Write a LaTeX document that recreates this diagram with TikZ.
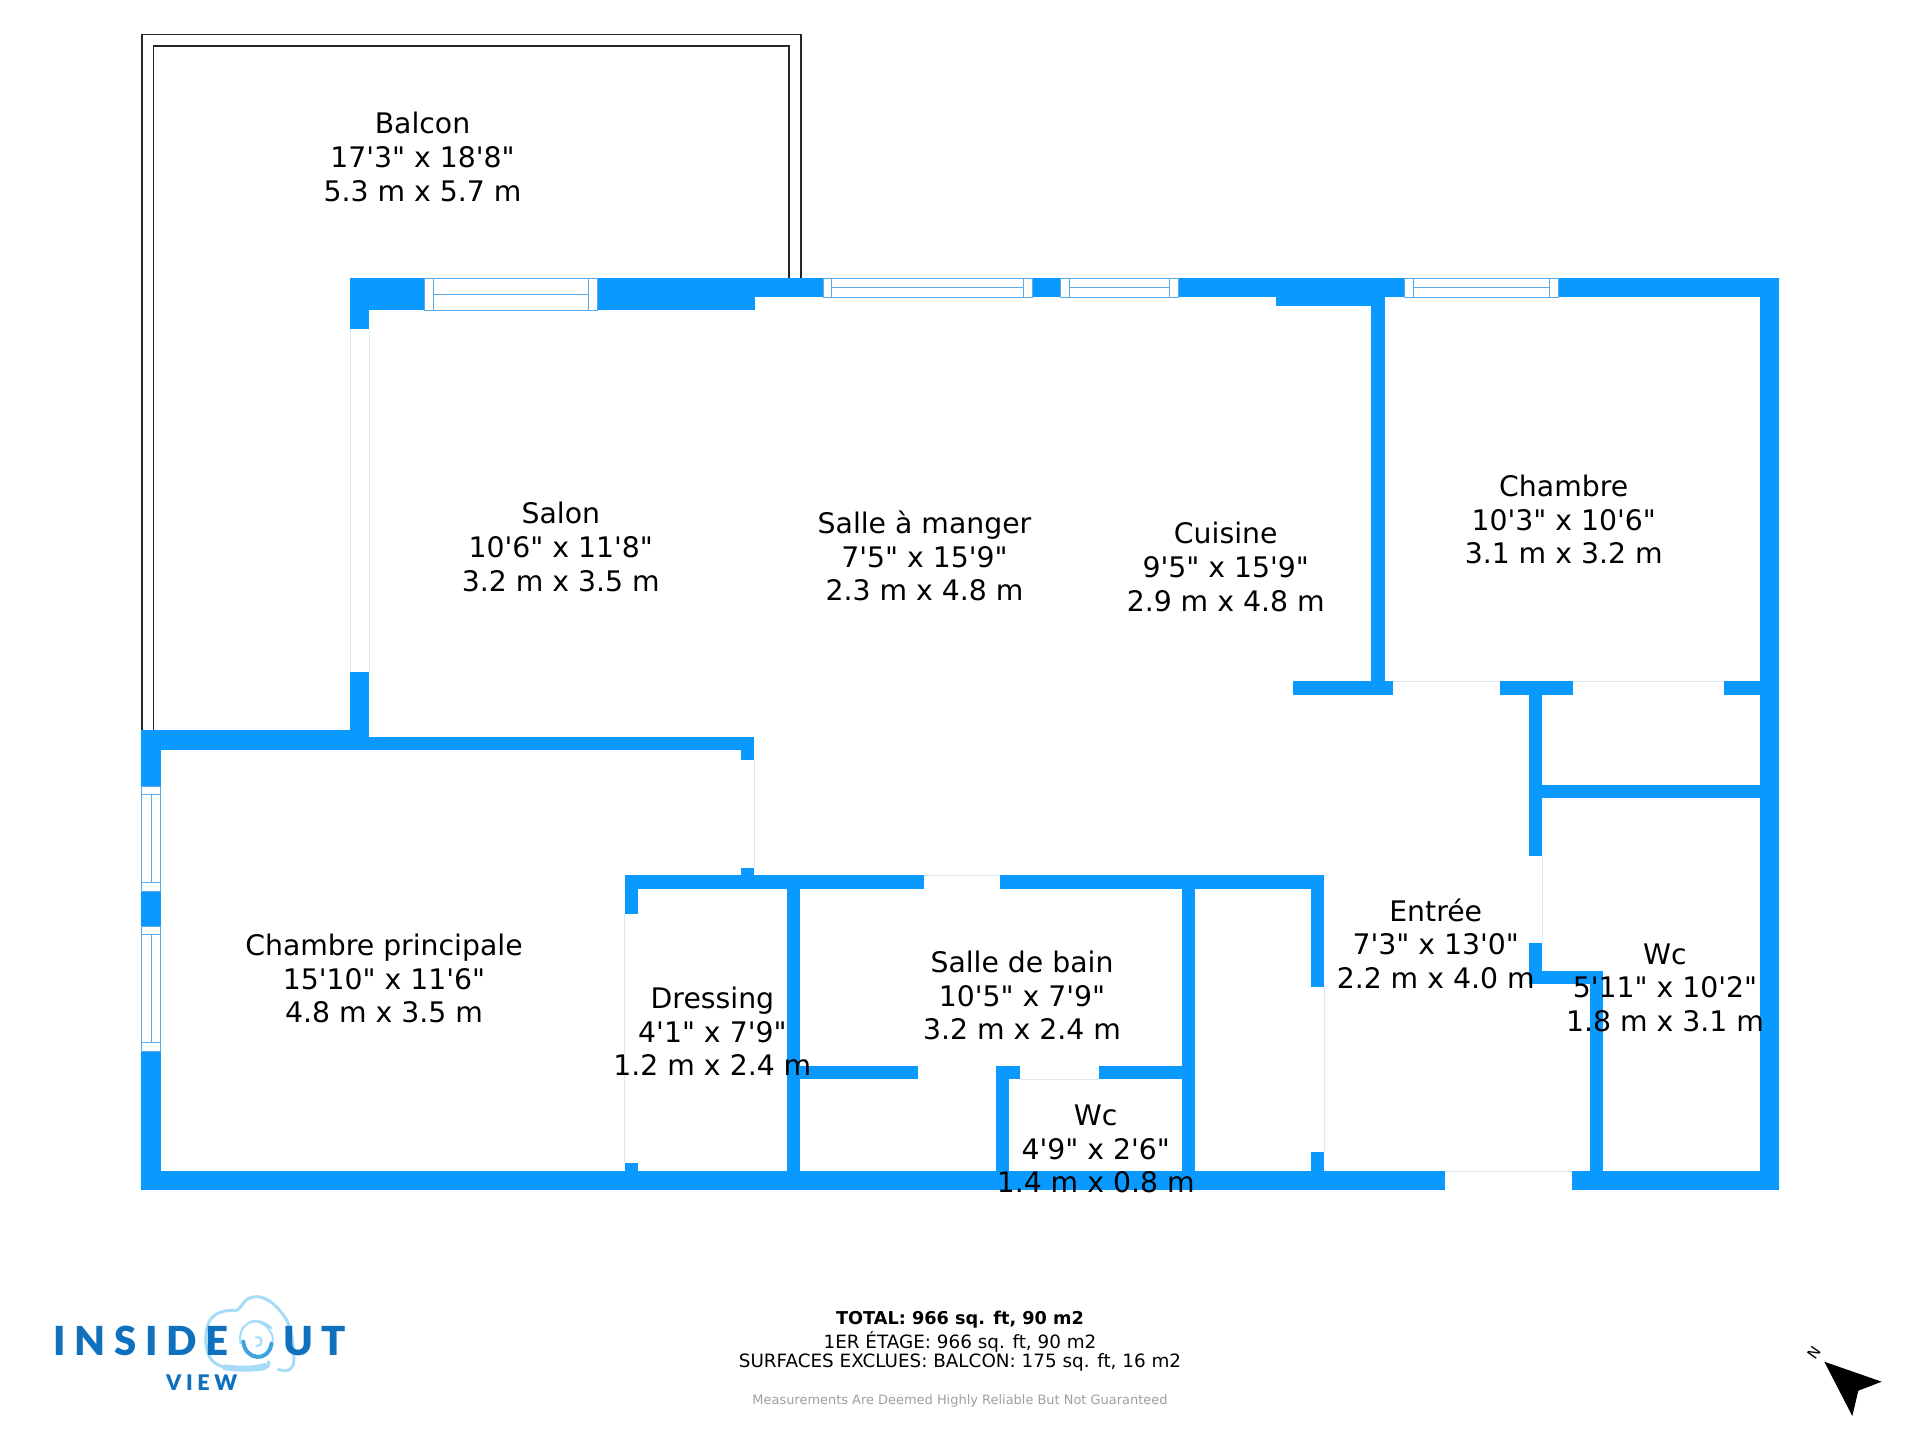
\documentclass[tikz,border=0pt]{standalone}
\usepackage{fontspec}
\setmainfont{DejaVu Sans}
\newfontfamily\planfont{DejaVu Sans}
\newfontfamily\logoa[LetterSpace=22]{Lato Black}
\definecolor{wallc}{HTML}{0A9AFF}
\definecolor{winline}{HTML}{5AADEA}
\definecolor{faint}{HTML}{DCE9F2}
\definecolor{logod}{HTML}{0F70BE}
\definecolor{logol}{HTML}{A6DCF7}
\definecolor{logom}{HTML}{3FA3E0}
\tikzset{
  wallf/.style={fill=wallc},
  balc/.style={draw=black!85,line width=1.3pt},
  faintl/.style={draw=faint,line width=0.8pt},
  winbox/.style={fill=white,draw=winline,line width=0.9pt},
  winl/.style={draw=winline,line width=0.9pt},
  room/.style={align=center,inner sep=0pt,font=\fontsize{28.3}{33.6}\planfont},
  foot/.style={inner sep=0pt,font=\fontsize{18.35}{21}\planfont},
  swirl/.style={draw=logol,line cap=round,line join=round},
}
\newcommand{\wl}[4]{\fill[wallf] (#1,#2) rectangle (#3,#4);}
\newcommand{\hwin}[6]{% x1 x2 m1 m2 y1 y2
  \path[winbox] (#1,#5) rectangle (#2,#6);
  \draw[winl] (#3,#5) -- (#3,#6) (#4,#5) -- (#4,#6) (#3,{(#5+#6)/2}) -- (#4,{(#5+#6)/2});}
\newcommand{\vwin}[6]{% y1 y2 m1 m2 x1 x2
  \path[winbox] (#5,#1) rectangle (#6,#2);
  \draw[winl] (#5,#3) -- (#6,#3) (#5,#4) -- (#6,#4) ({(#5+#6)/2},#3) -- ({(#5+#6)/2},#4);}
\begin{document}
\begin{tikzpicture}[x=1pt,y=-1pt]
\useasboundingbox (0,0) rectangle (1920,1440);
% balcony
\draw[balc] (142,730) -- (142,34.5) -- (801,34.5) -- (801,278);
\draw[balc] (153.5,730) -- (153.5,46) -- (789,46) -- (789,278);
% faint door lines
\draw[faintl] (350,329) -- (350,672) (369,329) -- (369,672);
\draw[faintl] (754,760) -- (754,868);
\draw[faintl] (624.5,914) -- (624.5,1163);
\draw[faintl] (924,875.5) -- (1000,875.5);
\draw[faintl] (1020,1079) -- (1099,1079);
\draw[faintl] (1324,987) -- (1324,1152);
\draw[faintl] (1393,681.5) -- (1500,681.5) (1573,681.5) -- (1724,681.5);
\draw[faintl] (1542,856) -- (1542,943);
\draw[faintl] (1445,1171) -- (1572,1171);
% top walls
\wl{350}{278}{754.5}{310}
\wl{754}{278}{1779}{297}
\wl{1276}{297}{1372}{306}
\wl{350}{278}{369}{329}
\wl{350}{672}{368.7}{749}
\wl{1759.5}{278}{1779}{1190}
\wl{1371.3}{297}{1385}{694.6}
% chambre / wc walls
\wl{1292.7}{681.4}{1393}{694.6}
\wl{1500}{681.4}{1572.7}{694.6}
\wl{1724.3}{681.4}{1760}{694.6}
\wl{1529.3}{694}{1542.3}{856}
\wl{1542}{785}{1760}{798}
\wl{1529.3}{943}{1542.3}{984}
\wl{1529.3}{970.7}{1602.7}{984}
\wl{1589.5}{984}{1602.7}{1172}
% left / mid horizontal
\wl{141}{730}{368.7}{749.5}
\wl{368}{737}{754}{749.5}
\wl{741}{749}{754}{760}
\wl{741}{868}{754}{880}
\wl{141}{730}{160.6}{1190}
% inner block
\wl{624.5}{875.3}{924}{888.7}
\wl{1000.4}{875.3}{1324}{888.7}
\wl{624.5}{888}{638}{913.7}
\wl{624.5}{1163}{638}{1172}
\wl{787}{888}{800}{1172}
\wl{1182}{888}{1195}{1172}
\wl{1311}{888}{1324}{987}
\wl{1311}{1152}{1324}{1172}
\wl{800}{1066}{918}{1079}
\wl{995.5}{1066}{1019.6}{1079}
\wl{995.5}{1066}{1009}{1172}
\wl{1099}{1066}{1183}{1079}
% bottom walls
\wl{141}{1171}{1445}{1190}
\wl{1571.7}{1171}{1779}{1190}
% windows
\hwin{424}{597}{433}{588.6}{278}{310}
\hwin{823}{1032}{831}{1023}{278}{297}
\hwin{1060.5}{1178}{1069}{1169}{278}{297}
\hwin{1404.7}{1558}{1413}{1549}{278}{297}
\vwin{786}{891}{794.7}{882.7}{141.5}{160.6}
\vwin{926}{1051}{934.7}{1042}{141.5}{160.6}
% rooms
\node[room] (balcon) at (422.5,157) {Balcon\\17'3" x 18'8"\\5.3 m x 5.7 m};
\node[room] (salon) at (560.8,547) {Salon\\10'6" x 11'8"\\3.2 m x 3.5 m};
\node[room] (sam) at (924.5,556) {Salle à manger\\7'5" x 15'9"\\2.3 m x 4.8 m};
\node[room] (cuisine) at (1225.7,567) {Cuisine\\9'5" x 15'9"\\2.9 m x 4.8 m};
\node[room] (chambre) at (1563.7,519.5) {Chambre\\10'3" x 10'6"\\3.1 m x 3.2 m};
\node[room] (chprinc) at (384,978.5) {Chambre principale\\15'10" x 11'6"\\4.8 m x 3.5 m};
\node[room] (dressing) at (712.4,1031.5) {Dressing\\4'1" x 7'9"\\1.2 m x 2.4 m};
\node[room] (sdb) at (1022,995.5) {Salle de bain\\10'5" x 7'9"\\3.2 m x 2.4 m};
\node[room] (wca) at (1095.7,1149) {Wc\\4'9" x 2'6"\\1.4 m x 0.8 m};
\node[room] (entree) at (1435.7,943.5) {Entrée\\7'3" x 13'0"\\2.2 m x 4.0 m};
\node[room] (wcb) at (1665,987.5) {Wc\\5'11" x 10'2"\\1.8 m x 3.1 m};
% footer
\node[foot,font=\fontsize{17.7}{21}\planfont\bfseries] (total) at (960,1320) {TOTAL: 966 sq. ft, 90 m2};
\node[foot] (etage) at (960,1341.5) {1ER ÉTAGE: 966 sq. ft, 90 m2};
\node[foot] (excl) at (960,1362.5) {SURFACES EXCLUES: BALCON: 175 sq. ft, 16 m2};
\node[inner sep=0pt,text=black!38,font=\fontsize{12.95}{16}\planfont] (note) at (960,1401) {Measurements Are Deemed Highly Reliable But Not Guaranteed};
% north arrow
\fill[black] (1824.3,1361.7) -- (1881.7,1381.7) -- (1858.3,1390.7) -- (1852.3,1416) -- cycle;
\node[inner sep=0pt,rotate=55,font=\fontsize{15}{17}\planfont] (north) at (1814,1352.5) {N};
% logo
\begin{scope}[shift={(30,1280)},x=0.3333pt,y=-0.3333pt]
\draw[swirl,line width=3pt] (612,92) .. controls (575,88) and (545,105) .. (535,130) .. controls (522,165) and (525,215) .. (545,240) .. controls (570,270) and (640,272) .. (690,268) .. controls (712,266) and (722,255) .. (715,245);
\draw[swirl,line width=6pt] (585,262) .. controls (630,268) and (670,268) .. (705,258);
\draw[swirl,line width=3pt] (612,92) .. controls (640,90) and (632,60) .. (665,52) .. controls (700,42) and (735,70) .. (760,105) .. controls (785,135) and (790,190) .. (792,230) .. controls (795,265) and (775,280) .. (745,268);
\draw[swirl,line width=2.2pt] (632,190) .. controls (620,130) and (680,100) .. (725,145);
\draw[draw=logom,line width=4pt,line cap=round] (640,185) .. controls (645,240) and (715,250) .. (725,190);
\draw[swirl,line width=2pt] (660,125) .. controls (700,115) and (735,160) .. (728,185);
\draw[swirl,line width=2.2pt] (678,172) .. controls (695,165) and (705,195) .. (680,198);
\end{scope}
\node[inner sep=0pt,text=logod,anchor=west,font=\fontsize{40}{40}\logoa] (logoi) at (53,1341) {INSIDE};
\node[inner sep=0pt,text=logod,anchor=west,font=\fontsize{40}{40}\logoa] (logou) at (283,1341) {UT};
\node[inner sep=0pt,text=logod,font=\fontsize{21.5}{22}\logoa] (logov) at (201.7,1383) {VIEW};
\end{tikzpicture}
\end{document}
